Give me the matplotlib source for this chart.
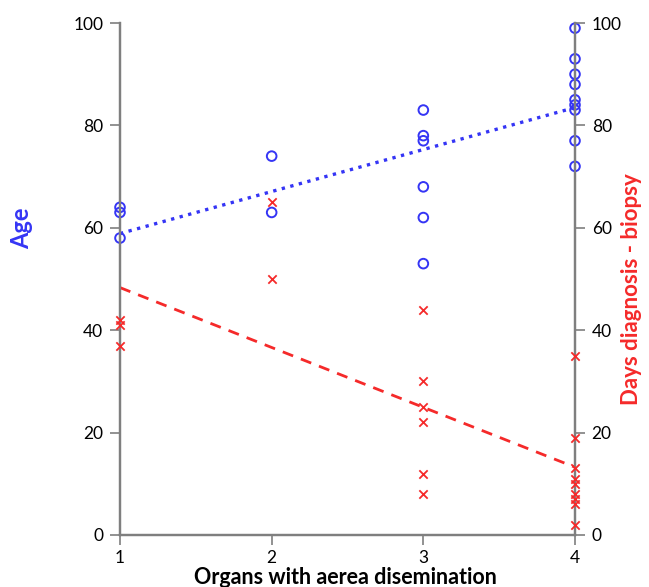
import numpy as np
import matplotlib.pyplot as plt

plt.rcParams['font.family'] = ['Lato', 'DejaVu Sans']

# data
organs_age = [1, 1, 1, 2, 2, 3, 3, 3, 3, 3, 3, 4, 4, 4, 4, 4, 4, 4, 4, 4]
age = [64, 63, 58, 74, 63, 83, 78, 77, 68, 62, 53, 99, 93, 90, 88, 85, 84, 83, 77, 72]
organs_days = [1, 1, 1, 2, 2, 3, 3, 3, 3, 3, 3, 4, 4, 4, 4, 4, 4, 4, 4, 4]
days = [42, 41, 37, 65, 50, 44, 30, 25, 22, 12, 8, 35, 19, 13, 11, 10, 8, 7, 6, 2]
xticks = [1, 2, 3, 4]
yticks = [0, 20, 40, 60, 80, 100]

blue = '#3535f5'
red = '#f52a2a'
gray = '#7f7f7f'

fig = plt.figure(figsize=(6.49, 5.87), dpi=100)
ax = fig.add_axes([0.1849, 0.0886, 0.7011, 0.8722])
ax2 = ax.twinx()

# trend lines (least squares)
xs = np.array([1.0, 4.0])
pa = np.polyfit(organs_age, age, 1)
pd_ = np.polyfit(organs_days, days, 1)
ax.plot(xs, np.polyval(pa, xs), ':', color=blue, lw=2.4, zorder=2)
ax2.plot(xs, np.polyval(pd_, xs), '--', color=red, lw=2.0, dashes=(4, 3), zorder=2)

ax.scatter(organs_age, age, s=48, facecolors='none', edgecolors=blue,
           linewidths=1.4, clip_on=False, zorder=3)
ax2.scatter(organs_days, days, s=36, marker='x', color=red,
            linewidths=1.3, clip_on=False, zorder=3)

for a in (ax, ax2):
    a.set_xlim(1, 4)
    a.set_ylim(0, 100)
    a.set_yticks(yticks)
    a.spines['top'].set_visible(False)
    for s in ('left', 'right', 'bottom'):
        a.spines[s].set_color(gray)
        a.spines[s].set_linewidth(1.6)
    a.tick_params(colors=gray, labelcolor='black', labelsize=12.5,
                  length=7, width=1.2, direction='out')

ax.set_xticks(xticks)
ax.tick_params(axis='x', pad=4)
ax.tick_params(axis='y', pad=5)
ax2.tick_params(axis='y', pad=5)

ax.set_xlabel('Organs with aerea disemination', fontsize=15.5, fontweight='bold')
ax.xaxis.set_label_coords(0.495, -0.063)
ax.set_ylabel('Age', fontsize=17, fontweight='bold', color=blue)
ax.yaxis.set_label_coords(-0.19, 0.6)
ax2.set_ylabel('Days diagnosis - biopsy', fontsize=16, fontweight='bold', color=red)
ax2.yaxis.set_label_coords(1.1, 0.48)

fig.savefig('out.png', dpi=100)
